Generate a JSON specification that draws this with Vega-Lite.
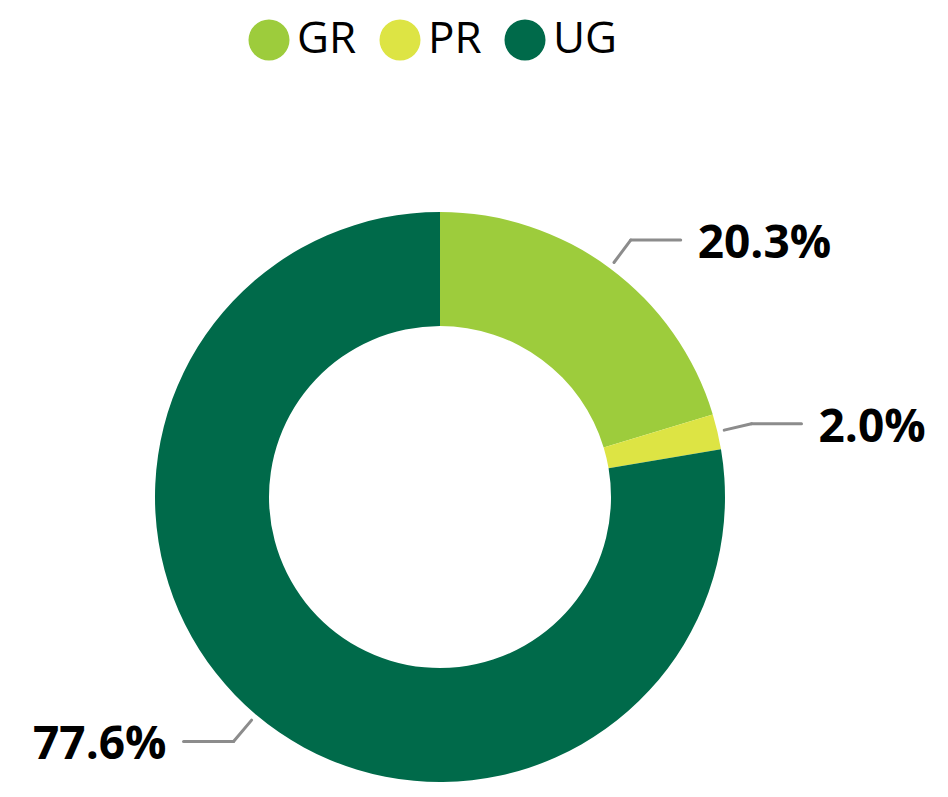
{
  "$schema": "https://vega.github.io/schema/vega-lite/v6.json",
  "width": 880,
  "height": 994,
  "autosize": "none",
  "padding": {"left": 0, "top": 0, "right": 68, "bottom": 0},
  "background": "white",
  "data": {"values": [
    {"cat": "GR", "value": 20.3},
    {"cat": "PR", "value": 2.0},
    {"cat": "UG", "value": 77.6}
  ]},
  "layer": [
    {
      "mark": {"type": "arc", "outerRadius": 285, "innerRadius": 171},
      "encoding": {
        "theta": {"field": "value", "type": "quantitative", "stack": true},
        "color": {
          "field": "cat", "type": "nominal",
          "scale": {"domain": ["GR", "PR", "UG"], "range": ["#9DCC3C", "#DDE444", "#006A4A"]},
          "legend": {
            "title": null, "orient": "none", "direction": "horizontal",
            "legendX": 247, "legendY": 18,
            "symbolType": "circle", "symbolSize": 1681, "symbolStrokeWidth": 0, "symbolOpacity": 1,
            "labelFont": "Open Sans", "labelFontSize": 44, "labelColor": "#000000",
            "labelOffset": 6, "columnPadding": 21
          }
        }
      }
    },
    {
      "transform": [
        {"window": [{"op": "sum", "field": "value", "as": "cum"}], "sort": [{"field": "cat"}]},
        {"joinaggregate": [{"op": "sum", "field": "value", "as": "total"}]},
        {"calculate": "(datum.cum - datum.value / 2) / datum.total * 2 * PI", "as": "mid"},
        {"calculate": "292 * sin(datum.mid)", "as": "x0"},
        {"calculate": "292 * cos(datum.mid)", "as": "y0"},
        {"calculate": "320 * sin(datum.mid)", "as": "x1"},
        {"calculate": "320 * cos(datum.mid)", "as": "y1"}
      ],
      "mark": {"type": "rule", "stroke": "#8c8c8c", "strokeWidth": 3, "strokeCap": "round"},
      "encoding": {
        "x": {"field": "x0", "type": "quantitative", "scale": {"domain": [-440, 440], "nice": false, "zero": false}, "axis": null},
        "y": {"field": "y0", "type": "quantitative", "scale": {"domain": [-497, 497], "nice": false, "zero": false}, "axis": null},
        "x2": {"field": "x1"},
        "y2": {"field": "y1"}
      }
    },
    {
      "transform": [
        {"window": [{"op": "sum", "field": "value", "as": "cum"}], "sort": [{"field": "cat"}]},
        {"joinaggregate": [{"op": "sum", "field": "value", "as": "total"}]},
        {"calculate": "(datum.cum - datum.value / 2) / datum.total * 2 * PI", "as": "mid"},
        {"calculate": "320 * sin(datum.mid)", "as": "x1"},
        {"calculate": "320 * cos(datum.mid)", "as": "y1"},
        {"calculate": "datum.x1 + (sin(datum.mid) > 0 ? 50 : -50)", "as": "x2"}
      ],
      "mark": {"type": "rule", "stroke": "#8c8c8c", "strokeWidth": 3, "strokeCap": "round"},
      "encoding": {
        "x": {"field": "x1", "type": "quantitative", "scale": {"domain": [-440, 440], "nice": false, "zero": false}, "axis": null},
        "y": {"field": "y1", "type": "quantitative", "scale": {"domain": [-497, 497], "nice": false, "zero": false}, "axis": null},
        "x2": {"field": "x2"}
      }
    },
    {
      "transform": [
        {"window": [{"op": "sum", "field": "value", "as": "cum"}], "sort": [{"field": "cat"}]},
        {"joinaggregate": [{"op": "sum", "field": "value", "as": "total"}]},
        {"calculate": "(datum.cum - datum.value / 2) / datum.total * 2 * PI", "as": "mid"},
        {"filter": "sin(datum.mid) > 0"},
        {"calculate": "320 * sin(datum.mid) + 67", "as": "xt"},
        {"calculate": "320 * cos(datum.mid)", "as": "yt"},
        {"calculate": "format(datum.value, '.1f') + '%'", "as": "label"}
      ],
      "mark": {"type": "text", "align": "left", "baseline": "middle", "dy": 4, "font": "Open Sans", "fontSize": 46, "fontWeight": "bold", "color": "#000000"},
      "encoding": {
        "x": {"field": "xt", "type": "quantitative", "scale": {"domain": [-440, 440], "nice": false, "zero": false}, "axis": null},
        "y": {"field": "yt", "type": "quantitative", "scale": {"domain": [-497, 497], "nice": false, "zero": false}, "axis": null},
        "text": {"field": "label"}
      }
    },
    {
      "transform": [
        {"window": [{"op": "sum", "field": "value", "as": "cum"}], "sort": [{"field": "cat"}]},
        {"joinaggregate": [{"op": "sum", "field": "value", "as": "total"}]},
        {"calculate": "(datum.cum - datum.value / 2) / datum.total * 2 * PI", "as": "mid"},
        {"filter": "sin(datum.mid) < 0"},
        {"calculate": "320 * sin(datum.mid) - 67", "as": "xt"},
        {"calculate": "320 * cos(datum.mid)", "as": "yt"},
        {"calculate": "format(datum.value, '.1f') + '%'", "as": "label"}
      ],
      "mark": {"type": "text", "align": "right", "baseline": "middle", "dy": 4, "font": "Open Sans", "fontSize": 46, "fontWeight": "bold", "color": "#000000"},
      "encoding": {
        "x": {"field": "xt", "type": "quantitative", "scale": {"domain": [-440, 440], "nice": false, "zero": false}, "axis": null},
        "y": {"field": "yt", "type": "quantitative", "scale": {"domain": [-497, 497], "nice": false, "zero": false}, "axis": null},
        "text": {"field": "label"}
      }
    }
  ],
  "config": {"view": {"stroke": null}}
}
